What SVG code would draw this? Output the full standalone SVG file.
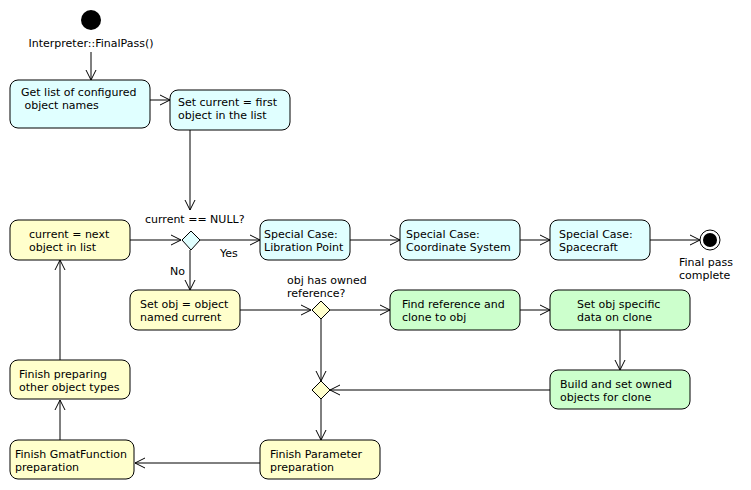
<svg xmlns="http://www.w3.org/2000/svg" width="751" height="490" viewBox="0 0 751 490">
<style>
text{font-family:"DejaVu Sans","Liberation Sans",sans-serif;font-size:11px;fill:#000}
.n{stroke:#000;stroke-width:1}
.c{fill:#e0ffff}
.y{fill:#ffffcc}
.g{fill:#ccffcc}
.e{fill:none;stroke:#000;stroke-width:1}
.d{stroke:#000;stroke-width:1}
</style>
<defs>
<marker id="a" markerWidth="12" markerHeight="12" refX="11" refY="6" orient="auto" markerUnits="userSpaceOnUse">
<path d="M1,1 L11,6 L1,11" fill="none" stroke="#000" stroke-width="1"/>
</marker>
</defs>
<rect width="751" height="490" fill="#fff"/>
<g id="connectors">
<path class="e" d="M91,52 V80" marker-end="url(#a)"/>
<path class="e" d="M150,100 H170" marker-end="url(#a)"/>
<path class="e" d="M190,130 V210" marker-end="url(#a)"/>
<path class="e" d="M130,240 H181" marker-end="url(#a)"/>
<path class="e" d="M200,240 H260" marker-end="url(#a)"/>
<path class="e" d="M190,250 V290" marker-end="url(#a)"/>
<path class="e" d="M350,240 H400" marker-end="url(#a)"/>
<path class="e" d="M520,240 H550" marker-end="url(#a)"/>
<path class="e" d="M650,240 H700" marker-end="url(#a)"/>
<path class="e" d="M240,310 H311" marker-end="url(#a)"/>
<path class="e" d="M330,310 H390" marker-end="url(#a)"/>
<path class="e" d="M520,310 H550" marker-end="url(#a)"/>
<path class="e" d="M620,330 V370" marker-end="url(#a)"/>
<path class="e" d="M550,390 H330" marker-end="url(#a)"/>
<path class="e" d="M321,319 V381" marker-end="url(#a)"/>
<path class="e" d="M321,399 V440" marker-end="url(#a)"/>
<path class="e" d="M260,463 H135" marker-end="url(#a)"/>
<path class="e" d="M60,440 V400" marker-end="url(#a)"/>
<path class="e" d="M60,360 V260" marker-end="url(#a)"/>
<text x="220" y="257">Yes</text>
<text x="170" y="275">No</text>
</g>
<g id="start">
<circle cx="91" cy="20" r="10" fill="#000"/>
<text x="91" y="47" text-anchor="middle">Interpreter::FinalPass()</text>
</g>
<g id="getList">
<rect class="n c" x="10" y="80" width="140" height="48" rx="8"/>
<text x="21" y="96">Get list of configured</text>
<text x="21" y="109" xml:space="preserve"> object names</text>
</g>
<g id="setCurrent">
<rect class="n c" x="170" y="90" width="120" height="40" rx="8"/>
<text x="178" y="106">Set current = first</text>
<text x="178" y="119">object in the list</text>
</g>
<g id="decisionNull">
<path class="d c" d="M191,231 L200,240 L191,250 L182,240 Z"/>
<text x="145" y="223">current == NULL?</text>
</g>
<g id="nextObject">
<rect class="n y" x="10" y="220" width="120" height="40" rx="8"/>
<text x="29" y="238">current = next</text>
<text x="29" y="251">object in list</text>
</g>
<g id="libration">
<rect class="n c" x="260" y="220" width="90" height="40" rx="8"/>
<text x="264" y="238">Special Case:</text>
<text x="264" y="251">Libration Point</text>
</g>
<g id="coordSys">
<rect class="n c" x="400" y="220" width="120" height="40" rx="8"/>
<text x="406" y="238">Special Case:</text>
<text x="406" y="251">Coordinate System</text>
</g>
<g id="spacecraft">
<rect class="n c" x="550" y="220" width="100" height="40" rx="8"/>
<text x="559" y="238">Special Case:</text>
<text x="559" y="251">Spacecraft</text>
</g>
<g id="end">
<circle cx="710" cy="240" r="10" fill="#fff" stroke="#000"/>
<circle cx="710" cy="240" r="7" fill="#000"/>
<text x="679" y="266">Final pass</text>
<text x="679" y="279">complete</text>
</g>
<g id="setObj">
<rect class="n y" x="130" y="290" width="110" height="40" rx="8"/>
<text x="140" y="308">Set obj = object</text>
<text x="140" y="321">named current</text>
</g>
<g id="decisionOwned">
<path class="d y" d="M321,301 L330,310 L321,319 L312,310 Z"/>
<text x="287" y="284">obj has owned</text>
<text x="287" y="297">reference?</text>
</g>
<g id="findRef">
<rect class="n g" x="390" y="290" width="130" height="40" rx="8"/>
<text x="402" y="308">Find reference and</text>
<text x="402" y="321">clone to obj</text>
</g>
<g id="setSpecific">
<rect class="n g" x="550" y="290" width="140" height="40" rx="8"/>
<text x="577" y="308">Set obj specific</text>
<text x="577" y="321">data on clone</text>
</g>
<g id="buildOwned">
<rect class="n g" x="550" y="370" width="140" height="39" rx="8"/>
<text x="560" y="388">Build and set owned</text>
<text x="560" y="401">objects for clone</text>
</g>
<g id="merge">
<path class="d y" d="M321,381 L330,390 L321,399 L312,390 Z"/>
</g>
<g id="finishParam">
<rect class="n y" x="260" y="440" width="120" height="39" rx="8"/>
<text x="270" y="458">Finish Parameter</text>
<text x="270" y="471">preparation</text>
</g>
<g id="finishGmat">
<rect class="n y" x="10" y="440" width="124" height="39" rx="8"/>
<text x="15" y="458">Finish GmatFunction</text>
<text x="15" y="471">preparation</text>
</g>
<g id="finishOther">
<rect class="n y" x="10" y="360" width="120" height="39" rx="8"/>
<text x="19" y="378">Finish preparing</text>
<text x="19" y="391">other object types</text>
</g>
</svg>
